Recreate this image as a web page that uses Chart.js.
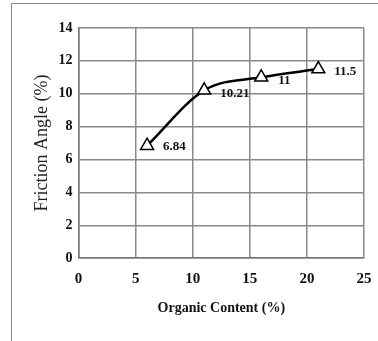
<!DOCTYPE html>
<html>
<head>
<meta charset="utf-8">
<script src="https://cdn.jsdelivr.net/npm/chart.js@4"></script>
<style>
  html, body { margin: 0; padding: 0; background: #fff; }
  #wrap { position: relative; width: 378px; height: 341px; }
  #frame { position: absolute; left: 11px; top: 3px; width: 370px; height: 340px;
           border-left: 1px solid #888; border-top: 1px solid #888; }
  canvas { position: absolute; left: 0; top: 0; }
</style>
</head>
<body>
<div id="wrap">
  <div id="frame"></div>
  <canvas id="miChart" width="378" height="341"></canvas>
</div>
<script>
// Datos
const organicContent = [6, 11, 16, 21];
const frictionAngle = [6.84, 10.21, 11, 11.5];
const pointLabels = ["6.84", "10.21", "11", "11.5"];
const xTicks = [0, 5, 10, 15, 20, 25];
const yTicks = [0, 2, 4, 6, 8, 10, 12, 14];

const serif = "'Liberation Serif', 'DejaVu Serif', serif";

// Etiquetas de valores junto a cada punto
const valueLabels = {
    id: 'valueLabels',
    afterDatasetsDraw(chart) {
        const { ctx } = chart;
        const meta = chart.getDatasetMeta(0);
        ctx.save();
        ctx.font = "bold 13px " + serif;
        ctx.fillStyle = "#111";
        ctx.textBaseline = "middle";
        const offsets = [[16, 1], [16, 3], [17, 3], [16, 3]];
        meta.data.forEach((pt, i) => {
            ctx.fillText(pointLabels[i], pt.x + offsets[i][0], pt.y + offsets[i][1]);
        });
        ctx.restore();
    }
};

const miChart = document.querySelector("#miChart");
new Chart(miChart, {
    type: 'line',
    data: {
        datasets: [{
            data: organicContent.map((x, i) => ({ x: x, y: frictionAngle[i] })),
            borderColor: '#000',
            borderWidth: 2.5,
            tension: 0.4,
            cubicInterpolationMode: 'monotone',
            pointStyle: 'triangle',
            pointRadius: 7.5,
            pointBorderWidth: 1.5,
            pointBorderColor: '#000',
            pointBackgroundColor: '#fff'
        }]
    },
    options: {
        responsive: false,
        animation: false,
        layout: { padding: { left: 27, right: 14, top: 28, bottom: 20 } },
        plugins: { legend: { display: false }, tooltip: { enabled: false } },
        scales: {
            x: {
                type: 'linear', min: 0, max: 25,
                afterBuildTicks: (s) => { s.ticks = xTicks.map(v => ({ value: v })); },
                afterFit: (s) => { s.paddingRight = 0; },
                grid: { color: '#8a8a8a', lineWidth: 1.5, drawTicks: false },
                border: { color: '#777', width: 1.5 },
                ticks: { color: '#111', padding: 12, font: { family: serif, size: 15, weight: 'bold' } },
                title: { display: true, text: 'Organic Content (%)', color: '#111', padding: { top: 0 },
                         font: { family: serif, size: 14, weight: 'bold' } }
            },
            y: {
                type: 'linear', min: 0, max: 14,
                afterBuildTicks: (s) => { s.ticks = yTicks.map(v => ({ value: v })); },
                grid: { color: '#8a8a8a', lineWidth: 1.5, drawTicks: false },
                border: { color: '#777', width: 1.5 },
                ticks: { color: '#111', padding: 6, font: { family: serif, size: 14, weight: 'bold' } },
                title: { display: true, text: 'Friction Angle (%)', color: '#222', padding: { bottom: 0 },
                         font: { family: serif, size: 18, weight: 'normal' } }
            }
        }
    },
    plugins: [valueLabels]
});
</script>
</body>
</html>
